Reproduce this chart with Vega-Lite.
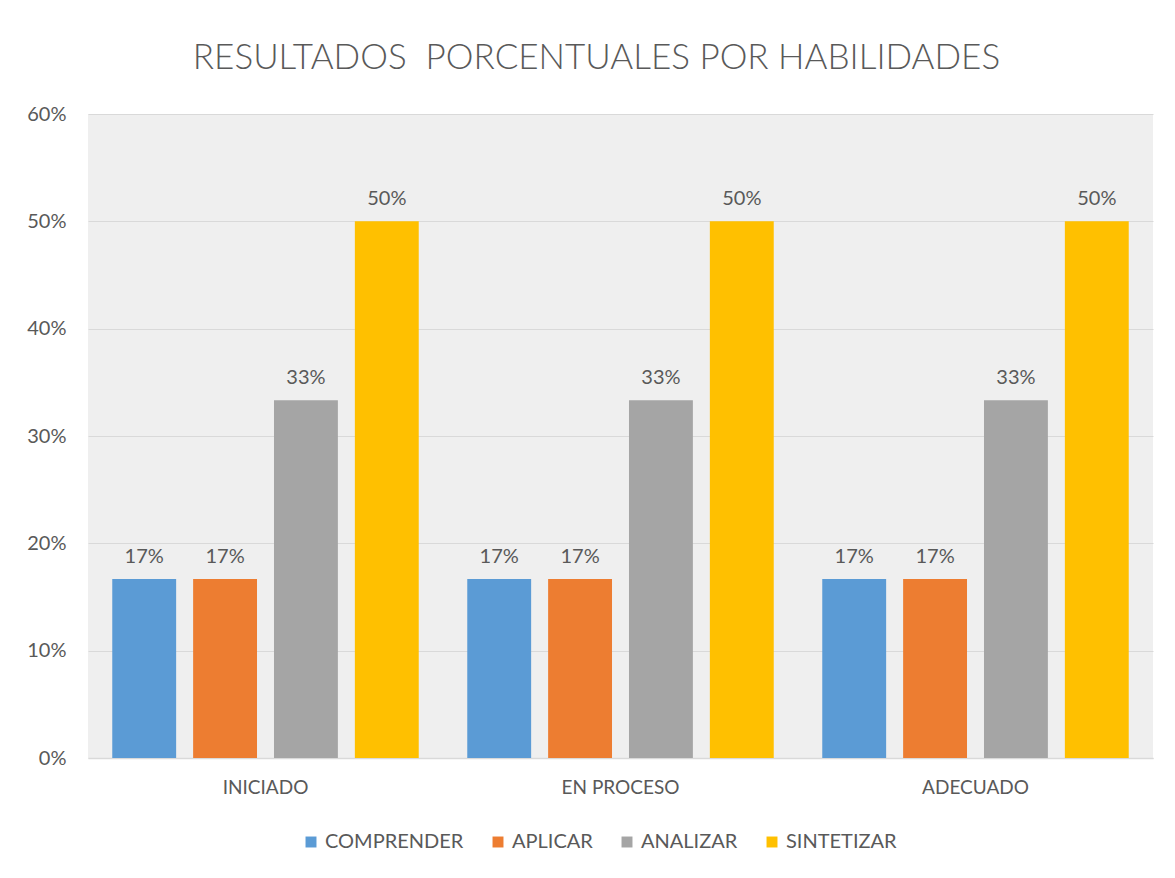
{
  "$schema": "https://vega.github.io/schema/vega-lite/v6.json",
  "autosize": {"type": "none"},
  "width": 1065,
  "height": 644,
  "padding": {"left": 88, "top": 114, "right": 22, "bottom": 120},
  "background": "white",
  "title": {
    "text": "RESULTADOS\u00a0 PORCENTUALES POR HABILIDADES",
    "font": "Lato",
    "fontSize": 35,
    "fontWeight": 300,
    "color": "#595959",
    "anchor": "middle",
    "dx": -24,
    "offset": 28
  },
  "data": {
    "values": [
      {"nivel": "INICIADO", "habilidad": "COMPRENDER", "valor": 0.1667},
      {"nivel": "INICIADO", "habilidad": "APLICAR", "valor": 0.1667},
      {"nivel": "INICIADO", "habilidad": "ANALIZAR", "valor": 0.3333},
      {"nivel": "INICIADO", "habilidad": "SINTETIZAR", "valor": 0.5},
      {"nivel": "EN PROCESO", "habilidad": "COMPRENDER", "valor": 0.1667},
      {"nivel": "EN PROCESO", "habilidad": "APLICAR", "valor": 0.1667},
      {"nivel": "EN PROCESO", "habilidad": "ANALIZAR", "valor": 0.3333},
      {"nivel": "EN PROCESO", "habilidad": "SINTETIZAR", "valor": 0.5},
      {"nivel": "ADECUADO", "habilidad": "COMPRENDER", "valor": 0.1667},
      {"nivel": "ADECUADO", "habilidad": "APLICAR", "valor": 0.1667},
      {"nivel": "ADECUADO", "habilidad": "ANALIZAR", "valor": 0.3333},
      {"nivel": "ADECUADO", "habilidad": "SINTETIZAR", "valor": 0.5}
    ]
  },
  "encoding": {
    "x": {
      "field": "nivel",
      "type": "nominal",
      "sort": ["INICIADO", "EN PROCESO", "ADECUADO"],
      "scale": {"paddingInner": 0, "paddingOuter": 0},
      "axis": {
        "title": null,
        "labelAngle": 0,
        "labelFont": "Lato",
        "labelFontSize": 19,
        "labelColor": "#595959",
        "labelPadding": 20,
        "ticks": false,
        "domainColor": "#d9d9d9",
        "domainWidth": 1.5,
        "grid": false
      }
    },
    "xOffset": {
      "field": "habilidad",
      "type": "nominal",
      "sort": ["COMPRENDER", "APLICAR", "ANALIZAR", "SINTETIZAR"],
      "scale": {"paddingInner": 0.21, "paddingOuter": 0.3}
    },
    "y": {
      "field": "valor",
      "type": "quantitative",
      "scale": {"domain": [0, 0.6], "nice": false},
      "axis": {
        "title": null,
        "format": ".0%",
        "values": [0, 0.1, 0.2, 0.3, 0.4, 0.5, 0.6],
        "labelOverlap": false,
        "labelFont": "Lato",
        "labelFontSize": 20,
        "labelColor": "#595959",
        "labelPadding": 22,
        "ticks": false,
        "domain": false,
        "gridColor": "#d9d9d9",
        "gridWidth": 1
      }
    }
  },
  "layer": [
    {
      "mark": {"type": "bar"},
      "encoding": {
        "color": {
          "field": "habilidad",
          "type": "nominal",
          "sort": ["COMPRENDER", "APLICAR", "ANALIZAR", "SINTETIZAR"],
          "scale": {
            "domain": ["COMPRENDER", "APLICAR", "ANALIZAR", "SINTETIZAR"],
            "range": ["#5B9BD5", "#ED7D31", "#A5A5A5", "#FFC000"]
          },
          "legend": {
            "title": null,
            "orient": "none",
            "legendX": 213,
            "legendY": 718,
            "direction": "horizontal",
            "symbolType": "square",
            "symbolSize": 120,
            "symbolStrokeWidth": 0,
            "labelFont": "Lato",
            "labelFontSize": 20,
            "labelColor": "#595959",
            "labelOffset": 4,
            "columnPadding": 24
          }
        }
      }
    },
    {
      "mark": {
        "type": "text",
        "baseline": "bottom",
        "dy": -12,
        "font": "Lato",
        "fontSize": 20,
        "color": "#595959"
      },
      "encoding": {
        "text": {"field": "valor", "type": "quantitative", "format": ".0%"}
      }
    }
  ],
  "config": {
    "view": {"fill": "#efefef", "stroke": null}
  }
}
